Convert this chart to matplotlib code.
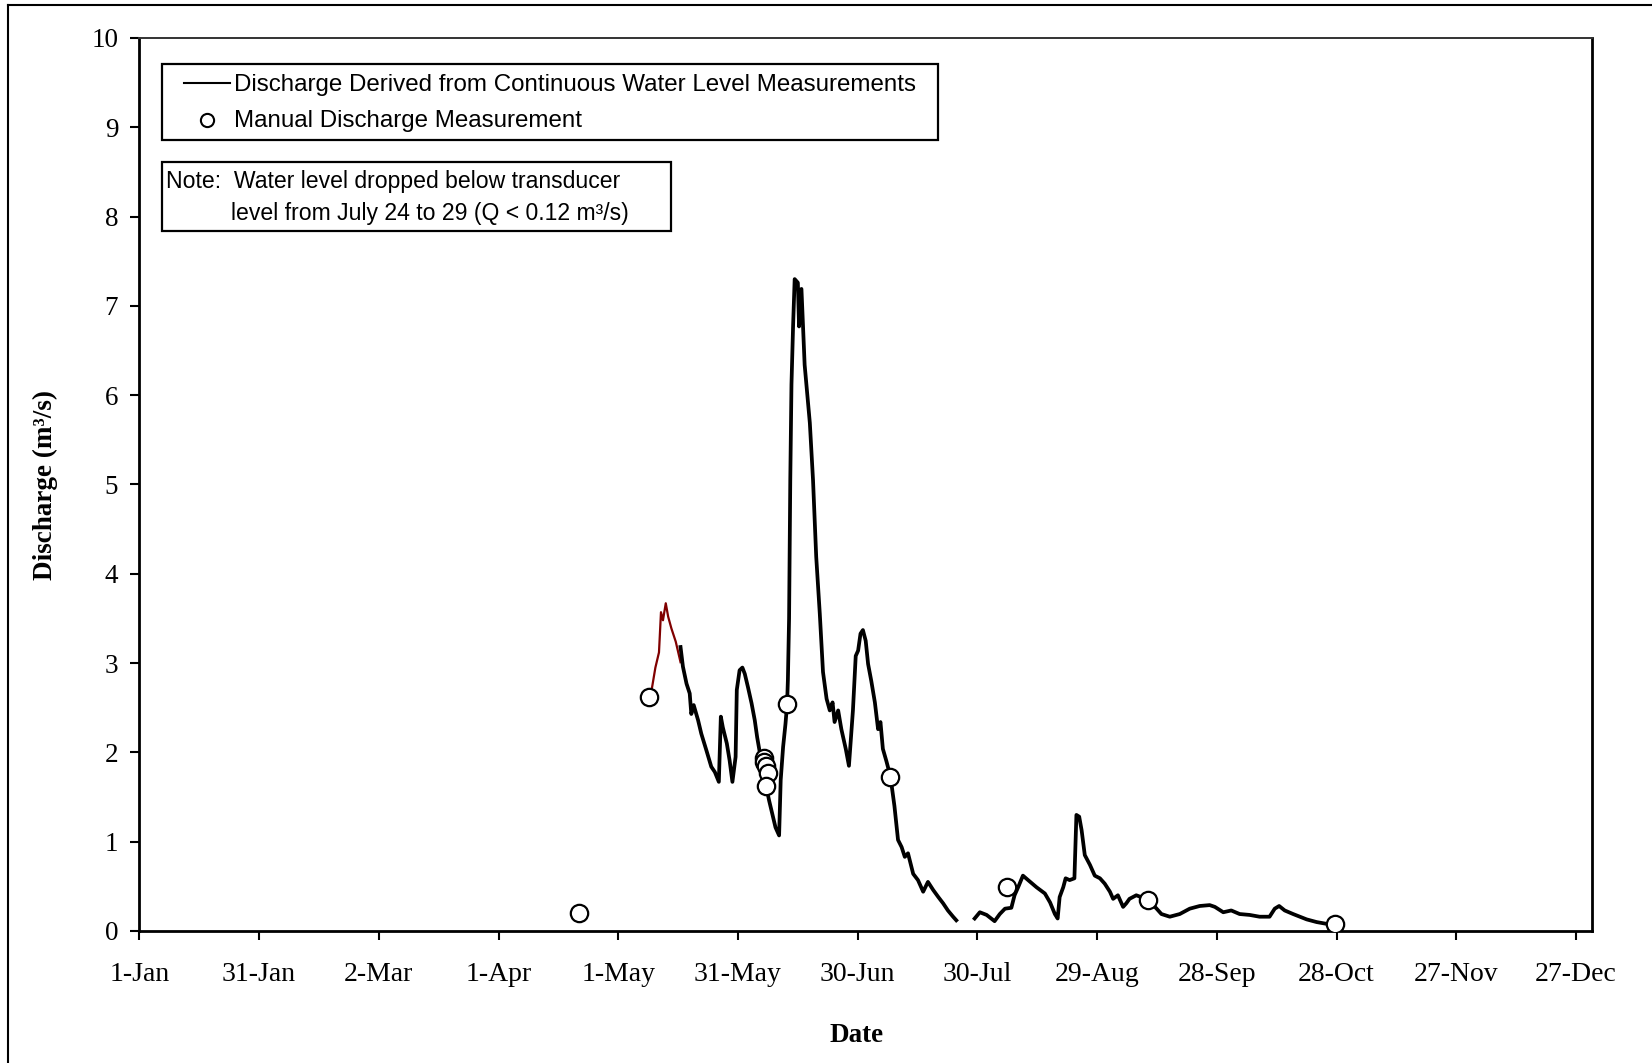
import matplotlib
matplotlib.use("Agg")
import matplotlib.pyplot as plt
from matplotlib.lines import Line2D
from matplotlib.patches import Rectangle

# day of year (0 = 1-Jan), discharge in m3/s
red_day = [127.7, 128.4, 129.3, 130.2, 130.7, 131.2, 131.9, 132.5, 133.3, 134.4, 135.6]
red_q = [2.62, 2.71, 2.95, 3.12, 3.57, 3.48, 3.67, 3.52, 3.39, 3.24, 3.01]

seg1_day = [135.6, 136.2, 137.1, 137.9, 138.3, 138.9, 140.0, 140.8, 142.1, 143.3,
            144.2, 145.2, 145.7, 146.2, 147.2, 147.9, 148.6, 149.4, 149.7, 150.4,
            151.1, 151.7, 152.5, 153.4, 154.2, 154.8, 155.5, 156.3, 156.9, 157.1,
            157.8, 158.6, 159.4, 160.3, 160.7, 161.3, 161.9, 162.3, 162.5, 162.8,
            163.1, 163.4, 163.8, 164.2, 165.0, 165.3, 165.9, 166.7, 168.0, 168.8,
            169.6, 170.5, 171.3, 172.2, 173.0, 173.7, 174.2, 175.1, 175.9, 177.0,
            177.8, 178.8, 179.5, 180.1, 180.7, 181.3, 182.0, 182.6, 183.4, 184.3,
            185.1, 185.7, 186.3, 187.2, 188.2, 189.2, 190.1, 191.0, 191.8, 192.6,
            193.9, 195.1, 196.4, 197.6, 198.9, 200.2, 201.4, 202.6, 203.9, 204.7]
seg1_q = [3.18, 2.96, 2.77, 2.66, 2.43, 2.53, 2.36, 2.21, 2.02, 1.84,
          1.78, 1.67, 2.40, 2.28, 2.10, 1.91, 1.67, 1.95, 2.70, 2.92,
          2.95, 2.88, 2.73, 2.55, 2.36, 2.17, 1.99, 1.90, 1.75, 1.61,
          1.46, 1.31, 1.16, 1.07, 1.69, 2.06, 2.32, 2.54, 2.81, 3.50,
          5.05, 6.12, 6.77, 7.30, 7.26, 6.77, 7.19, 6.34, 5.69, 5.05,
          4.19, 3.55, 2.90, 2.60, 2.47, 2.56, 2.34, 2.47, 2.26, 2.04,
          1.85, 2.47, 3.08, 3.14, 3.33, 3.37, 3.25, 2.99, 2.80, 2.56,
          2.26, 2.34, 2.04, 1.90, 1.73, 1.40, 1.02, 0.94, 0.83, 0.87,
          0.64, 0.57, 0.44, 0.55, 0.46, 0.38, 0.31, 0.23, 0.16, 0.12]

seg2_day = [209.3, 210.6, 212.3, 214.3, 215.6, 216.9, 218.5, 219.3, 220.2, 221.4,
            222.7, 224.8, 226.9, 228.2, 229.4, 230.1, 230.6, 231.5, 232.1, 233.1,
            234.3, 234.8, 235.5, 236.1, 236.9, 238.2, 239.4, 240.7, 241.9, 243.2,
            244.0, 245.2, 246.5, 247.3, 248.1, 249.8, 252.8, 254.9, 256.1, 258.2,
            260.7, 263.2, 265.7, 268.2, 269.5, 271.6, 273.6, 275.7, 278.2, 280.7,
            283.2, 284.5, 285.6, 287.0, 289.1, 290.8, 292.5, 295.0, 297.5, 299.1]
seg2_q = [0.14, 0.21, 0.18, 0.11, 0.19, 0.25, 0.26, 0.40, 0.49, 0.62,
          0.57, 0.49, 0.42, 0.32, 0.19, 0.14, 0.38, 0.49, 0.59, 0.57,
          0.59, 1.30, 1.28, 1.13, 0.85, 0.74, 0.62, 0.59, 0.53, 0.44,
          0.36, 0.40, 0.27, 0.31, 0.36, 0.40, 0.35, 0.25, 0.19, 0.16,
          0.19, 0.25, 0.28, 0.29, 0.27, 0.21, 0.23, 0.19, 0.18, 0.16,
          0.16, 0.25, 0.28, 0.23, 0.19, 0.16, 0.13, 0.10, 0.08, 0.06]

manual_day = [110.2, 127.7, 156.4, 156.6, 156.9, 157.4, 157.1, 162.3, 188.2, 217.3, 252.8, 299.7]
manual_q = [0.20, 2.62, 1.94, 1.89, 1.85, 1.77, 1.62, 2.54, 1.73, 0.49, 0.35, 0.08]

tick_days = [0, 30, 60, 90, 120, 150, 180, 210, 240, 270, 300, 330, 360]
tick_labels = ["1-Jan", "31-Jan", "2-Mar", "1-Apr", "1-May", "31-May", "30-Jun",
               "30-Jul", "29-Aug", "28-Sep", "28-Oct", "27-Nov", "27-Dec"]

W, H = 1652, 1063
serif = ["Liberation Serif", "DejaVu Serif"]
sans = ["Liberation Sans", "DejaVu Sans"]


def fx(x):
    return x / W


def fy(y):
    return 1 - y / H


fig = plt.figure(figsize=(W / 100, H / 100), dpi=100)
ax = fig.add_axes([fx(139), fy(931), (1592 - 139) / W, (931 - 38) / H])

ax.plot(red_day, red_q, color="#800000", lw=1.6, zorder=2)
ax.plot(seg1_day, seg1_q, color="black", lw=2.7, zorder=3)
ax.plot(seg2_day, seg2_q, color="black", lw=2.7, zorder=3)
ax.plot(manual_day, manual_q, ls="none", marker="o", ms=12.5, mfc="white",
        mec="black", mew=1.6, zorder=4)

ax.set_xlim(-0.1, 364)
ax.set_ylim(0, 10)
ax.set_xticks(tick_days)
ax.set_xticklabels(tick_labels, fontfamily=serif, fontsize=20)
ax.set_yticks(range(11))
ax.set_yticklabels([str(v) for v in range(11)], fontfamily=serif, fontsize=19.5)
ax.tick_params(axis="both", direction="out", length=6.5, width=1.5, color="black")
ax.tick_params(axis="y", pad=8.5)
ax.tick_params(axis="x", pad=16)

for side in ["left", "bottom", "right"]:
    ax.spines[side].set_linewidth(2.0)
    ax.spines[side].set_color("black")
ax.spines["top"].set_linewidth(1.4)
ax.spines["top"].set_color("#333333")

ax.set_ylabel("Discharge (m³/s)", fontfamily=serif, fontsize=19.5, fontweight="bold")
ax.yaxis.set_label_coords((45 - 139) / (1592 - 139), 0.5)
ax.yaxis.label.set_va("center")
ax.set_xlabel("Date", fontfamily=serif, fontsize=19.5, fontweight="bold")
ax.xaxis.set_label_coords((857 - 139) / (1592 - 139), (931 - 1036) / (931 - 38))
ax.xaxis.label.set_va("center")

# legend box
fig.patches.append(Rectangle((fx(162.3), fy(140.1)), (937.7 - 162.3) / W, (140.1 - 64.3) / H,
                             transform=fig.transFigure, fill=True, fc="white",
                             ec="black", lw=1.6, zorder=5))
fig.lines.append(Line2D([fx(184.4), fx(229.7)], [fy(82.5), fy(82.5)],
                        transform=fig.transFigure, color="black", lw=1.5, zorder=6))
fig.lines.append(Line2D([fx(206.5)], [fy(119.5)], transform=fig.transFigure, ls="none",
                        marker="o", ms=9.5, mfc="white", mec="black", mew=1.5, zorder=6))
fig.text(fx(233.9), fy(84.5), "Discharge Derived from Continuous Water Level Measurements",
         family=sans, fontsize=17.4, va="center", ha="left", zorder=6)
fig.text(fx(233.9), fy(121), "Manual Discharge Measurement",
         family=sans, fontsize=17.4, va="center", ha="left", zorder=6)

# note box
fig.patches.append(Rectangle((fx(162.3), fy(230.7)), (671 - 162.3) / W, (230.7 - 162.3) / H,
                             transform=fig.transFigure, fill=True, fc="white",
                             ec="black", lw=1.6, zorder=5))
fig.text(fx(166.5), fy(181.5), "Note:  Water level dropped below transducer",
         family=sans, fontsize=16.6, va="center", ha="left", zorder=6)
fig.text(fx(230.7), fy(213.5), "level from July 24 to 29 (Q < 0.12 m³/s)",
         family=sans, fontsize=16.6, va="center", ha="left", zorder=6)

# outer frame (top and left edges visible)
fig.lines.append(Line2D([fx(8), fx(W)], [fy(5), fy(5)], transform=fig.transFigure,
                        color="black", lw=1.5))
fig.lines.append(Line2D([fx(8), fx(8)], [fy(5), fy(H)], transform=fig.transFigure,
                        color="black", lw=1.5))

fig.savefig("out.png", dpi=100)
